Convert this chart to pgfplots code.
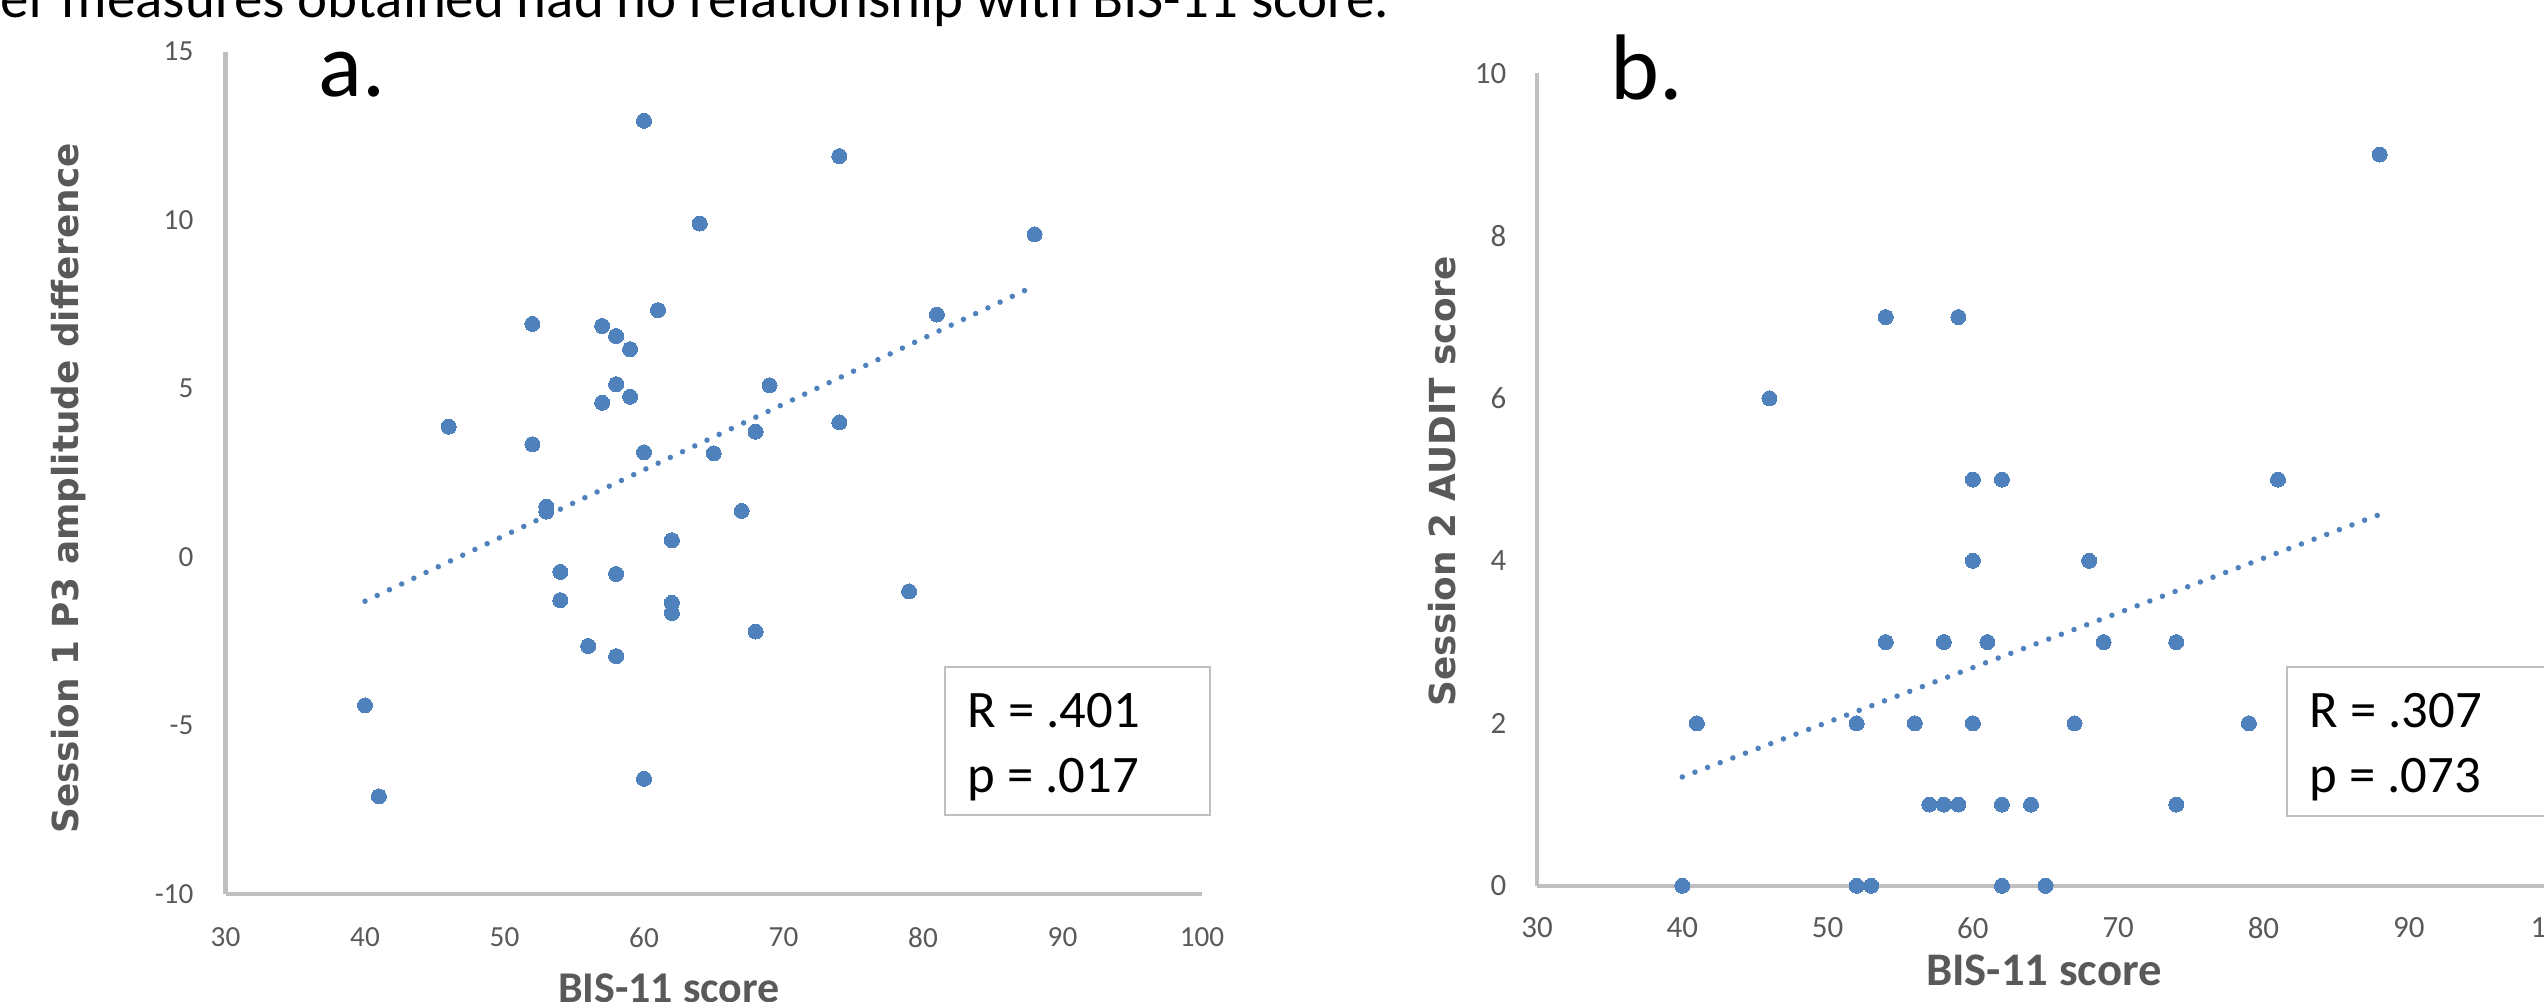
\documentclass[border=0pt]{standalone}
\usepackage{fontspec}
\setmainfont{Carlito}
\newfontfamily\widefont{DejaVu Sans}
\usepackage{pgfplots}
\pgfplotsset{compat=1.18}

\definecolor{dotblue}{HTML}{4F81BD}
\definecolor{txtgray}{HTML}{595959}
\definecolor{axgray}{HTML}{BFBFBF}

\pgfplotsset{
  excel/.style={
    scale only axis, anchor=south west, clip=false,
    xmin=30, xmax=100, xtick={30,40,...,100},
    axis x line*=bottom, axis y line*=left,
    axis line style={-, draw=axgray, line width=0.45mm},
    major tick length=0pt,
    /pgf/number format/assume math mode=true,
    tick label style={text=txtgray},
    xticklabel style={anchor=north, inner sep=0pt},
    yticklabel style={anchor=east, inner sep=0pt},
    xlabel style={font=\fontsize{12.5}{14}\selectfont\bfseries, text=txtgray, anchor=base, inner sep=0pt},
    ylabel style={font=\widefont\fontsize{10.2}{12}\selectfont\bfseries, text=txtgray, anchor=center, inner sep=0pt},
  },
  pts/.style={only marks, mark=*, mark size=0.75mm,
    mark options={draw=dotblue, fill=dotblue, line width=0pt}},
  trend/.style={no marks, draw=dotblue, line width=0.55mm, line cap=round,
    dash pattern=on 0pt off 1.35mm},
}

\begin{document}
\begin{tikzpicture}
\useasboundingbox (0,0) rectangle (254.4mm,100.1mm);
\clip (0,0) rectangle (254.4mm,100.1mm);

% text line above the charts, cut at the top and left
\node[anchor=base east, inner sep=0pt, font=\fontsize{16.2}{18}\selectfont]
  at (139.0mm,98.3mm) {er measures obtained had no relationship with BIS-11 score.};

% panel a
\begin{axis}[excel,
    at={(22.55mm,10.7mm)}, width=97.65mm, height=84.23mm,
    ymin=-10, ymax=15, ytick={-10,-5,...,15},
    tick label style={font=\fontsize{8.3}{10}\selectfont},
    xticklabel shift=3.3mm, yticklabel shift=3.15mm,
    xlabel={BIS-11 score},
    xlabel style={at={(rel axis cs:0.454,-0.129)}},
    ylabel={Session 1 P3 amplitude difference},
    ylabel style={at={(rel axis cs:-0.161,0.4815)}},
]
\addplot[pts] coordinates {
  (60,12.95) (74,11.9) (64,9.9) (88,9.58) (61,7.33) (52,6.92) (57,6.86)
  (81,7.2) (58,6.56) (59,6.17) (58,5.13) (69,5.1) (59,4.76) (57,4.58)
  (46,3.87) (74,4.0) (68,3.72) (52,3.35) (60,3.11) (65,3.08)
  (53,1.5) (53,1.35) (67,1.37) (62,0.5) (54,-0.44) (58,-0.5) (79,-1.02)
  (54,-1.28) (62,-1.36) (62,-1.66) (68,-2.21) (56,-2.64) (58,-2.94)
  (40,-4.4) (60,-6.58) (41,-7.1)
};
\addplot[trend] coordinates {(40,-1.31) (88,8.05)};
\end{axis}

% panel b
\begin{axis}[excel,
    at={(153.7mm,11.52mm)}, width=101.7mm, height=81.25mm,
    ymin=0, ymax=10, ytick={0,2,...,10},
    tick label style={font=\fontsize{8.8}{10}\selectfont},
    xticklabel shift=3.1mm, yticklabel shift=3.0mm,
    xlabel={BIS-11 score},
    xlabel style={at={(rel axis cs:0.4985,-0.123)}, font=\fontsize{13.3}{15}\selectfont\bfseries},
    ylabel={Session 2 AUDIT score},
    ylabel style={at={(rel axis cs:-0.0934,0.498)}},
]
\addplot[pts] coordinates {
  (88,9) (54,7) (59,7) (46,6) (60,5) (62,5) (81,5) (60,4) (68,4)
  (54,3) (58,3) (61,3) (69,3) (74,3)
  (41,2) (52,2) (56,2) (60,2) (67,2) (79,2)
  (57,1) (58,1) (59,1) (62,1) (64,1) (74,1)
  (40,0) (52,0) (53,0) (62,0) (65,0)
};
\addplot[trend] coordinates {(40,1.34) (88,4.57)};
\end{axis}

% panel letters
\node[anchor=base west, inner sep=0pt, font=\fontsize{26}{28}\selectfont] at (31.8mm,90.4mm) {a.};
\node[anchor=base west, inner sep=0pt, font=\fontsize{26.5}{28}\selectfont] at (161.0mm,90.1mm) {b.};

% statistics boxes
\draw[axgray, line width=0.2mm, fill=white] (94.5mm,18.6mm) rectangle (121.0mm,33.4mm);
\node[anchor=base west, inner sep=0pt, font=\fontsize{15}{16}\selectfont] at (96.7mm,27.4mm) {R = .401};
\node[anchor=base west, inner sep=0pt, font=\fontsize{15}{16}\selectfont] at (96.7mm,20.9mm) {p = .017};
\draw[axgray, line width=0.2mm, fill=white] (228.7mm,18.5mm) rectangle (262mm,33.4mm);
\node[anchor=base west, inner sep=0pt, font=\fontsize{15}{16}\selectfont] at (230.9mm,27.4mm) {R = .307};
\node[anchor=base west, inner sep=0pt, font=\fontsize{15}{16}\selectfont] at (230.9mm,20.9mm) {p = .073};
\end{tikzpicture}
\end{document}
